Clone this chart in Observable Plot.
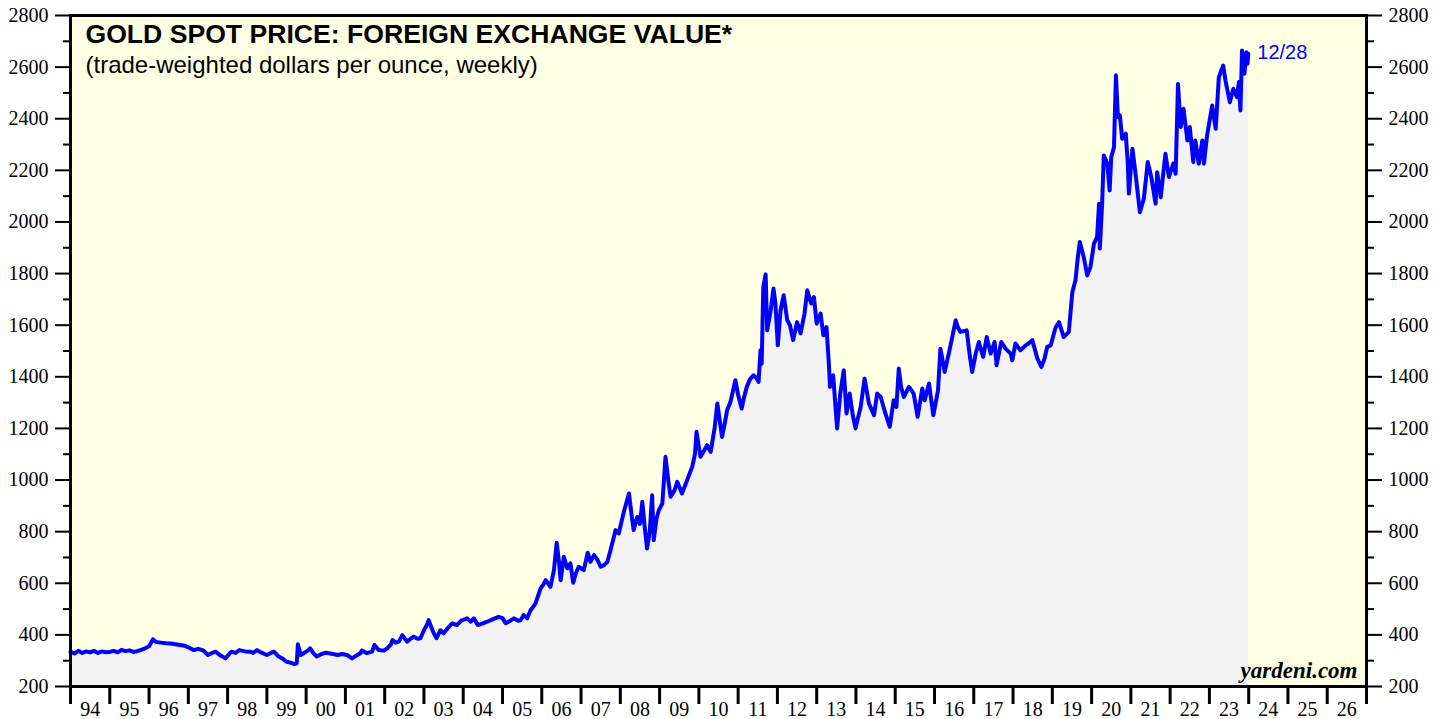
<!DOCTYPE html>
<html>
<head>
<meta charset="utf-8">
<script src="https://cdn.jsdelivr.net/npm/d3@7"></script>
<script src="https://cdn.jsdelivr.net/npm/@observablehq/plot@0.6"></script>
<style>
  html, body { margin: 0; padding: 0; background: #ffffff; }
  #chart svg { display: block; }
  #chart g[aria-label="y-axis tick label"] text,
  #chart g[aria-label="x-axis tick label"] text { font-family: 'Liberation Serif', 'Times New Roman', serif; }
</style>
</head>
<body>
<div id="chart"></div>
<script>
// ---- Data ----
const titleText = "GOLD SPOT PRICE: FOREIGN EXCHANGE VALUE*";
const subtitleText = "(trade-weighted dollars per ounce, weekly)";
const sourceText = "yardeni.com";
const lastDateLabel = "12/28";

const dates = [
  1994.00,1994.10,1994.20,1994.30,1994.40,1994.50,1994.60,1994.70,1994.80,1994.90,
  1995.00,1995.10,1995.20,1995.30,1995.40,1995.50,1995.60,1995.70,1995.80,1995.90,
  1996.00,1996.10,1996.18,1996.30,1996.45,1996.60,1996.75,1996.90,1997.00,1997.14,
  1997.25,1997.38,1997.50,1997.60,1997.70,1997.80,1997.95,1998.05,1998.10,1998.20,
  1998.30,1998.45,1998.58,1998.65,1998.75,1998.85,1999.00,1999.10,1999.18,1999.30,
  1999.40,1999.50,1999.62,1999.70,1999.76,1999.79,1999.86,1999.95,2000.05,2000.10,
  2000.18,2000.27,2000.38,2000.50,2000.62,2000.80,2000.92,2001.04,2001.17,2001.28,
  2001.38,2001.42,2001.55,2001.68,2001.74,2001.85,2001.98,2002.08,2002.15,2002.20,
  2002.28,2002.36,2002.45,2002.57,2002.66,2002.74,2002.84,2002.91,2003.00,2003.08,
  2003.12,2003.20,2003.25,2003.32,2003.42,2003.50,2003.60,2003.72,2003.84,2003.95,
  2004.10,2004.19,2004.27,2004.37,2004.50,2004.61,2004.75,2004.90,2005.00,2005.08,
  2005.20,2005.29,2005.40,2005.46,2005.54,2005.63,2005.71,2005.78,2005.84,2005.97,
  2006.04,2006.10,2006.22,2006.31,2006.38,2006.44,2006.48,2006.56,2006.65,2006.73,
  2006.80,2006.87,2006.94,2007.07,2007.17,2007.24,2007.33,2007.42,2007.50,2007.58,
  2007.67,2007.75,2007.88,2007.96,2008.09,2008.22,2008.30,2008.34,2008.43,2008.50,
  2008.56,2008.62,2008.68,2008.75,2008.81,2008.85,2008.92,2008.98,2009.07,2009.15,
  2009.22,2009.28,2009.38,2009.45,2009.57,2009.70,2009.83,2009.90,2009.94,2010.04,
  2010.12,2010.21,2010.30,2010.40,2010.47,2010.59,2010.66,2010.72,2010.80,2010.93,
  2011.00,2011.09,2011.15,2011.22,2011.30,2011.39,2011.47,2011.52,2011.57,2011.60,
  2011.64,2011.70,2011.74,2011.83,2011.90,2011.95,2012.01,2012.08,2012.16,2012.25,
  2012.32,2012.40,2012.50,2012.59,2012.69,2012.76,2012.86,2012.93,2013.00,2013.10,
  2013.17,2013.25,2013.31,2013.34,2013.42,2013.52,2013.60,2013.69,2013.76,2013.84,
  2013.92,2013.99,2014.05,2014.12,2014.22,2014.33,2014.46,2014.54,2014.63,2014.75,
  2014.86,2014.96,2015.03,2015.09,2015.15,2015.22,2015.35,2015.47,2015.57,2015.69,
  2015.75,2015.86,2015.97,2016.09,2016.15,2016.26,2016.39,2016.54,2016.60,2016.66,
  2016.82,2016.90,2016.96,2017.05,2017.13,2017.24,2017.33,2017.43,2017.53,2017.58,
  2017.70,2017.81,2017.94,2017.98,2018.06,2018.19,2018.32,2018.40,2018.49,2018.62,
  2018.72,2018.80,2018.87,2018.96,2019.08,2019.17,2019.29,2019.42,2019.51,2019.59,
  2019.65,2019.70,2019.80,2019.89,2019.97,2020.06,2020.14,2020.19,2020.21,2020.27,
  2020.31,2020.40,2020.46,2020.50,2020.57,2020.62,2020.67,2020.72,2020.78,2020.87,
  2020.92,2020.95,2021.04,2021.12,2021.23,2021.33,2021.43,2021.52,2021.63,2021.67,
  2021.76,2021.88,2021.97,2022.08,2022.14,2022.20,2022.27,2022.34,2022.44,2022.50,
  2022.59,2022.64,2022.73,2022.82,2022.86,2022.94,2023.07,2023.16,2023.24,2023.35,
  2023.41,2023.52,2023.61,2023.70,2023.75,2023.79,2023.83,2023.89,2023.94,2023.97,
  2023.99
];

const prices = [
  335,328,338,330,336,332,338,330,336,333,
  334,338,332,342,337,340,334,337,342,348,
  356,383,372,370,368,366,362,358,352,341,
  346,340,322,330,335,322,309,328,335,330,
  341,336,335,330,341,332,322,330,335,316,
  308,296,292,287,290,364,322,330,340,348,
  330,316,325,331,328,322,326,322,309,320,
  329,339,329,335,361,341,339,350,361,380,
  370,374,399,374,385,393,385,387,418,440,
  457,425,406,387,418,406,425,445,438,455,
  464,451,464,438,445,451,460,470,465,445,
  455,464,455,457,477,464,495,508,522,580,
  595,612,586,651,757,680,612,703,658,677,
  602,640,664,651,718,683,709,690,664,670,
  683,728,806,793,877,948,850,806,857,830,
  916,820,735,800,941,767,850,883,909,1090,
  1000,935,960,993,948,999,1051,1100,1187,1090,
  1110,1135,1109,1200,1297,1167,1220,1271,1300,1387,
  1330,1277,1320,1361,1390,1406,1395,1380,1503,1451,
  1748,1797,1580,1658,1742,1684,1522,1658,1716,1619,
  1600,1542,1612,1568,1645,1735,1684,1709,1606,1645,
  1561,1593,1451,1361,1406,1200,1335,1425,1258,1335,
  1250,1200,1240,1283,1393,1297,1251,1335,1322,1258,
  1206,1309,1283,1432,1360,1322,1361,1335,1245,1355,
  1309,1374,1251,1348,1509,1419,1509,1619,1590,1574,
  1580,1480,1419,1490,1535,1477,1554,1490,1535,1445,
  1535,1509,1490,1464,1529,1503,1522,1530,1542,1471,
  1438,1470,1516,1522,1590,1612,1554,1574,1729,1774,
  1864,1922,1864,1793,1825,1916,1942,2071,1897,2077,
  2258,2226,2122,2251,2290,2568,2406,2413,2322,2342,
  2232,2110,2284,2187,2038,2090,2232,2174,2071,2193,
  2096,2264,2174,2226,2187,2535,2368,2439,2316,2368,
  2232,2316,2226,2316,2226,2335,2451,2361,2561,2606,
  2548,2464,2516,2484,2542,2432,2664,2574,2658,2613,
  2652
];

const xTickYears = [1994,1995,1996,1997,1998,1999,2000,2001,2002,2003,2004,2005,2006,2007,2008,2009,2010,2011,2012,2013,2014,2015,2016,2017,2018,2019,2020,2021,2022,2023,2024,2025,2026,2027];
const xTickLabels = ["94","95","96","97","98","99","00","01","02","03","04","05","06","07","08","09","10","11","12","13","14","15","16","17","18","19","20","21","22","23","24","25","26"];
const yMajorTicks = [200,400,600,800,1000,1200,1400,1600,1800,2000,2200,2400,2600,2800];
const yMinorTicks = [300,500,700,900,1100,1300,1500,1700,1900,2100,2300,2500,2700];

// ---- Build table ----
const series = dates.map((d, i) => ({date: d, value: prices[i]}));
const last = series[series.length - 1];
const labelMids = xTickYears.slice(0, -1).map(y => y + 0.5);

const sans = "Liberation Sans, Arial, Helvetica, sans-serif";
const serif = "Liberation Serif, Times New Roman, serif";

const chart = Plot.plot({
  width: 1448,
  height: 719,
  marginLeft: 70,
  marginRight: 82,
  marginTop: 15,
  marginBottom: 33,
  style: {fontFamily: serif, fontSize: "20px", color: "black", background: "white"},
  x: {domain: [1994, 2027], axis: null},
  y: {domain: [200, 2800], axis: null},
  marks: [
    Plot.frame({fill: "#ffffe4", stroke: null}),
    Plot.areaY(series, {x: "date", y1: 200, y2: "value", fill: "#f2f2f2"}),
    Plot.line(series, {x: "date", y: "value", stroke: "#0000ff", strokeWidth: 4, strokeLinejoin: "round", strokeLinecap: "round"}),
    Plot.frame({stroke: "black", strokeWidth: 3}),
    // y axes, both sides
    Plot.axisY({anchor: "left", ticks: yMajorTicks, tickSize: 15, tickPadding: 7, strokeWidth: 2, label: null,
      tickFormat: d => String(d), fontFamily: serif, fontSize: 20}),
    Plot.axisY({anchor: "right", ticks: yMajorTicks, tickSize: 15, tickPadding: 7, strokeWidth: 2, label: null,
      tickFormat: d => String(d), fontFamily: serif, fontSize: 20}),
    Plot.axisY({anchor: "left", ticks: yMinorTicks, tickSize: 7, tickFormat: () => "", strokeWidth: 2, label: null}),
    Plot.axisY({anchor: "right", ticks: yMinorTicks, tickSize: 7, tickFormat: () => "", strokeWidth: 2, label: null}),
    // x axis: ticks at year boundaries, labels centered between
    Plot.axisX({anchor: "bottom", ticks: xTickYears, tickSize: 18, tickFormat: () => "", strokeWidth: 3, label: null}),
    Plot.axisX({anchor: "bottom", ticks: labelMids, tickSize: 0, tickPadding: 15, label: null, fontFamily: serif, fontSize: 20,
      tickFormat: d => xTickLabels[xTickYears.indexOf(Math.round(d - 0.5))]}),
    // titles
    Plot.text([titleText], {frameAnchor: "top-left", text: d => d, dx: 15, dy: 9, lineAnchor: "top",
      textAnchor: "start", fontFamily: sans, fontWeight: "bold", fontSize: 26.6, fill: "black"}),
    Plot.text([subtitleText], {frameAnchor: "top-left", text: d => d, dx: 15, dy: 40, lineAnchor: "top",
      textAnchor: "start", fontFamily: sans, fontSize: 24, fill: "black"}),
    // last-date label
    Plot.text([last], {x: "date", y: "value", text: () => lastDateLabel, dx: 9, dy: -1, textAnchor: "start",
      lineAnchor: "middle", fontFamily: sans, fontSize: 20, fill: "#0000ff"}),
    // source
    Plot.text([sourceText], {frameAnchor: "bottom-right", text: d => d, dx: -9, dy: -9, textAnchor: "end",
      lineAnchor: "bottom", fontFamily: serif, fontWeight: "bold", fontStyle: "italic", fontSize: 23, fill: "black"})
  ]
});
document.getElementById("chart").appendChild(chart);
</script>
</body>
</html>
